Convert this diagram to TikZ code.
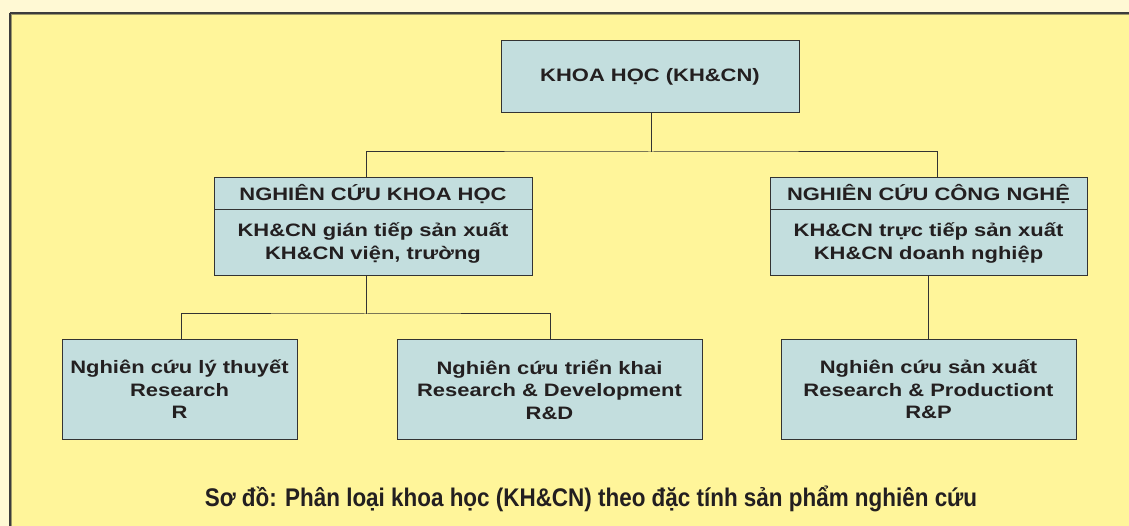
\documentclass[tikz,border=0pt]{standalone}
\usepackage{fontspec}
\newfontfamily\boxfont{Liberation Sans}[FakeStretch=1.22]
\newfontfamily\capfont{Liberation Sans}[FakeStretch=0.88]
\definecolor{outerbg}{HTML}{FFF9D4}
\definecolor{innerbg}{HTML}{FFF59A}
\definecolor{boxfill}{HTML}{C3DEDE}
\definecolor{linecol}{HTML}{333333}
\definecolor{framecol}{HTML}{3C3C3C}
\definecolor{frameinner}{HTML}{9C9868}
\definecolor{txt}{HTML}{231F20}
\begin{document}
\begin{tikzpicture}[x=1pt,y=-1pt,
  box/.style={draw=linecol, line width=1pt, fill=boxfill, inner sep=0pt, text=txt, align=center,
    font=\boxfont\bfseries\fontsize{18pt}{22.5pt}\selectfont},
  conn/.style={draw=linecol, line width=1pt},
  caption/.style={text=txt, font=\capfont\bfseries\fontsize{25.5pt}{28pt}\selectfont}]
\useasboundingbox (0,0) rectangle (1129,526);
\clip (0,0) rectangle (1129,526);
% background and frame
\fill[outerbg] (0,0) rectangle (1129,526);
\fill[innerbg] (9,13) rectangle (1140,540);
\draw[frameinner, line width=1pt] (11,15) -- (1140,15);
\draw[frameinner, line width=1pt] (11,15) -- (11,540);
\draw[framecol, line width=2pt] (9.5,13.5) -- (1140,13.5);
\draw[framecol, line width=2pt] (9.5,13.5) -- (9.5,540);
% junctions
\coordinate (j1) at (651,152);
\coordinate (j2) at (366,314);
% boxes
\node[box, minimum width=298, minimum height=72] (top) at (650,77) {KHOA HỌC (KH\&CN)};
\node[box, minimum width=318, minimum height=33] (lh) at (373,194) {NGHIÊN CỨU KHOA HỌC};
\node[box, minimum width=318, minimum height=66] (lb) at (373,243) {KH\&CN gián tiếp sản xuất\\KH\&CN viện, trường};
\node[box, minimum width=317, minimum height=33] (rh) at (928.5,194) {NGHIÊN CỨU CÔNG NGHỆ};
\node[box, minimum width=317, minimum height=66] (rb) at (928.5,243) {KH\&CN trực tiếp sản xuất\\KH\&CN doanh nghiệp};
\node[box, minimum width=235, minimum height=99] (bl) at (179.5,389.5) {Nghiên cứu lý thuyết\\Research\\R};
\node[box, minimum width=305, minimum height=99] (bm) at (549.5,389.5) {Nghiên cứu triển khai\\Research \& Development\\R\&D};
\node[box, minimum width=295, minimum height=99] (br) at (928.5,389.5) {Nghiên cứu sản xuất\\Research \& Productiont\\R\&P};
% connectors
\draw[conn] (j1 |- top.south) -- (j1);
\draw[conn] ([xshift=-7pt]lh.north) |- (j1) -| ([xshift=8.5pt]rh.north);
\draw[conn] ([xshift=-7pt]lb.south) -- (j2);
\draw[conn] ([xshift=1.5pt]bl.north) |- (j2) -| ([xshift=0.5pt]bm.north);
\draw[conn] (rb.south) -- (br.north);
% caption
\node[caption] (cap) at (591,499) {Sơ đồ: Phân loại khoa học (KH\&CN) theo đặc tính sản phẩm nghiên cứu};
\end{tikzpicture}
\end{document}
